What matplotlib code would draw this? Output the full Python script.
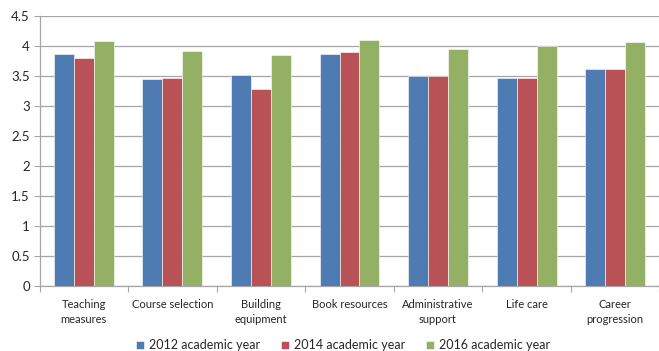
import matplotlib
matplotlib.use("Agg")
import matplotlib.pyplot as plt
import numpy as np

categories = ["Teaching\nmeasures", "Course selection", "Building\nequipment",
              "Book resources", "Administrative\nsupport", "Life care",
              "Career\nprogression"]
series_names = ["2012 academic year", "2014 academic year", "2016 academic year"]
values_2012 = [3.86, 3.45, 3.51, 3.86, 3.50, 3.47, 3.61]
values_2014 = [3.80, 3.46, 3.28, 3.89, 3.50, 3.47, 3.61]
values_2016 = [4.08, 3.92, 3.84, 4.10, 3.95, 4.00, 4.06]
y_ticks = [0, 0.5, 1, 1.5, 2, 2.5, 3, 3.5, 4, 4.5]
y_tick_labels = ["0", "0.5", "1", "1.5", "2", "2.5", "3", "3.5", "4", "4.5"]

colors = ["#4F7BB3", "#B85257", "#93B064"]
font = ["Lato", "DejaVu Sans"]

fig = plt.figure(figsize=(6.59, 3.51), dpi=100)
ax = fig.add_axes([39.5 / 659, 65 / 351, 620 / 659, 270.3 / 351])

x = np.arange(len(categories))
bw = 0.225
for i, (vals, name, c) in enumerate(zip([values_2012, values_2014, values_2016],
                                        series_names, colors)):
    ax.bar(x + (i - 1) * bw, vals, width=bw, color=c, label=name,
           edgecolor="white", linewidth=0.4, zorder=3)

ax.set_xlim(-0.5, len(categories) - 0.5)
ax.set_ylim(0, 4.5)
ax.set_yticks(y_ticks)
ax.set_yticklabels(y_tick_labels, fontsize=9.5, family=font)
ax.yaxis.grid(True, color="#A6A6A6", linewidth=0.9, zorder=0)

ax.set_xticks(x)
ax.set_xticklabels(categories, fontsize=8, family=font, linespacing=1.45)
ax.set_xticks(np.arange(len(categories) + 1) - 0.5, minor=True)
ax.tick_params(axis="x", which="major", length=0, pad=9, colors="#262626")
ax.tick_params(axis="x", which="minor", length=4, color="#A6A6A6", width=0.8)
ax.tick_params(axis="y", length=4, color="#A6A6A6", width=0.8, pad=3)
for lab in ax.get_yticklabels():
    lab.set_color("#262626")

for s in ["top", "right"]:
    ax.spines[s].set_visible(False)
for s in ["left", "bottom"]:
    ax.spines[s].set_color("#A6A6A6")
    ax.spines[s].set_linewidth(0.9)

leg = fig.legend(loc="center", bbox_to_anchor=(343 / 659, 1 - 345 / 351), ncol=3,
                 frameon=False, handlelength=0.6, handleheight=0.6,
                 handletextpad=0.4, columnspacing=1.7,
                 prop={"family": font, "size": 9})
for t in leg.get_texts():
    t.set_color("#262626")

fig.savefig("out.png", dpi=100)
